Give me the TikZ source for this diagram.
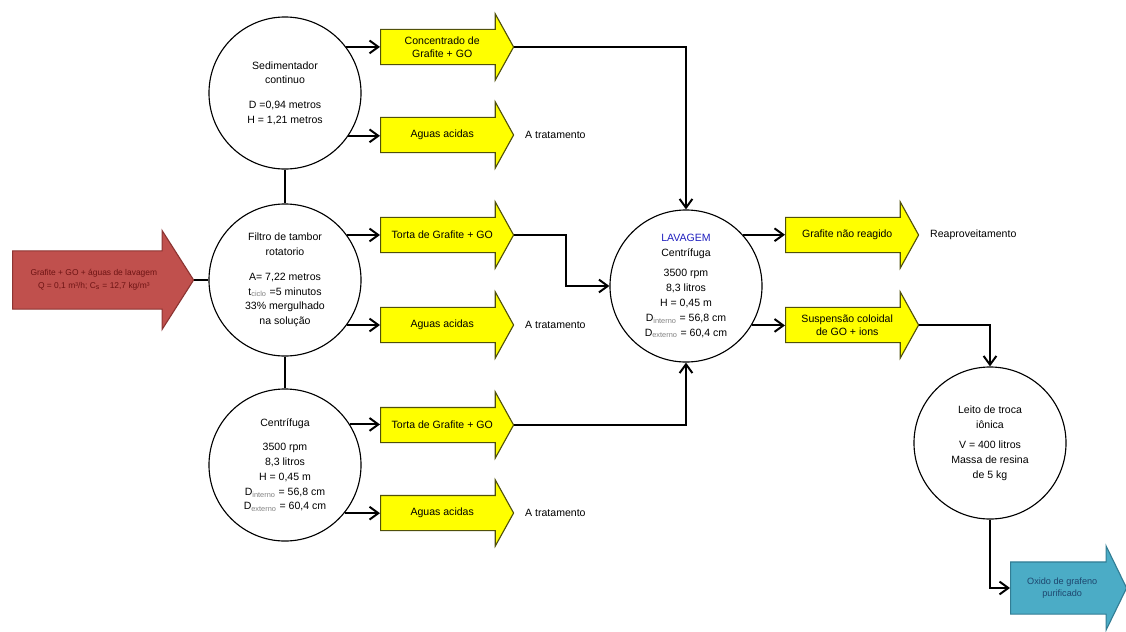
\documentclass[tikz,border=0pt]{standalone}
\usepackage{fontspec}
\setmainfont{Liberation Sans}
\usepackage{tikz}
\usetikzlibrary{positioning, arrows.meta, shapes.arrows}
\definecolor{FeedRed}{RGB}{192, 80, 77}
\definecolor{FeedRedLine}{RGB}{140, 52, 50}
\definecolor{FeedText}{RGB}{110, 20, 20}
\definecolor{FlowYellow}{RGB}{255, 255, 0}
\definecolor{FlowYellowLine}{RGB}{80, 80, 10}
\definecolor{ProdBlue}{RGB}{75, 172, 198}
\definecolor{ProdBlueLine}{RGB}{50, 125, 148}
\definecolor{ProdText}{RGB}{30, 70, 110}
\definecolor{WashBlue}{RGB}{30, 30, 190}
\newcommand{\flowbox}[3]{\parbox[c][#1][c]{#2}{\centering #3}}
\newcommand{\grsub}[1]{\textsubscript{\textcolor{gray}{#1}}}

\begin{document}
\begin{tikzpicture}[
        x=0.025cm, y=-0.025cm,
        >={Straight Barb[length=2.2mm, width=3.2mm]},
        vessel/.style={
          circle,
          draw,
          thick,
          minimum size=3.8cm,
          inner sep=0pt,
          align=center,
          font=\fontsize{7.5}{10.5}\selectfont
        },
        stream/.style={
          single arrow,
          draw=FlowYellowLine,
          thick,
          fill=FlowYellow,
          inner sep=0pt,
          single arrow head extend=0.39cm,
          single arrow tip angle=122,
          minimum height=3.325cm,
          anchor=tail,
          font=\fontsize{7.5}{9}\selectfont
        },
        feedarrow/.style={
          single arrow,
          draw=FeedRedLine,
          thick,
          fill=FeedRed,
          text=FeedText,
          inner sep=0pt,
          single arrow head extend=0.51cm,
          single arrow tip angle=115,
          minimum height=4.525cm,
          anchor=tail,
          font=\fontsize{6}{9}\selectfont
        },
        prodarrow/.style={
          single arrow,
          draw=ProdBlueLine,
          thick,
          fill=ProdBlue,
          text=ProdText,
          inner sep=0pt,
          single arrow head extend=0.4cm,
          single arrow tip angle=128,
          minimum height=2.9cm,
          anchor=tail,
          font=\fontsize{6.5}{9}\selectfont
        },
        note/.style={font=\fontsize{7.5}{9}\selectfont},
        pipe/.style={line width=1.4pt},
        link/.style={line width=1.4pt, ->}
      ]
        \useasboundingbox (0,0) rectangle (1126,632);

        % equipamentos
        \node (sed)   at (285, 93)  [vessel] {Sedimentador\\continuo\\[7pt]D =0,94 metros\\H = 1,21 metros};
        \node (filt)  at (285, 280) [vessel] {Filtro de tambor\\rotatorio\\[7pt]A= 7,22 metros\\t\grsub{ciclo} =5 minutos\\33\% mergulhado\\na solução};
        \node (cent)  at (285, 465) [vessel] {Centrífuga\\[7pt]3500 rpm\\8,3 litros\\H = 0,45 m\\D\grsub{interno} = 56,8 cm\\D\grsub{externo} = 60,4 cm};
        \node (lav)   at (686, 286) [vessel] {\textcolor{WashBlue}{LAVAGEM}\\Centrífuga\\[4pt]3500 rpm\\8,3 litros\\H = 0,45 m\\D\grsub{interno} = 56,8 cm\\D\grsub{externo} = 60,4 cm};
        \node (leito) at (990, 443) [vessel] {Leito de troca\\iônica\\[4pt]V = 400 litros\\Massa de resina\\de 5 kg};

        % correntes
        \node (feed)   at (12, 280)   [feedarrow] {\flowbox{1.425cm}{3.6cm}{Grafite + GO + águas de lavagem\\Q = 0,1 m³/h; C\textsubscript{s} = 12,7 kg/m³}};
        \node (conc)   at (380, 47)   [stream] {\flowbox{0.85cm}{2.8cm}{Concentrado de\\Grafite + GO}};
        \node (ac1)    at (380, 135)  [stream] {\flowbox{0.85cm}{2.8cm}{Aguas acidas}};
        \node (torta1) at (380, 235)  [stream] {\flowbox{0.85cm}{2.8cm}{Torta de Grafite + GO}};
        \node (ac2)    at (380, 325)  [stream] {\flowbox{0.85cm}{2.8cm}{Aguas acidas}};
        \node (torta3) at (380, 425)  [stream] {\flowbox{0.85cm}{2.8cm}{Torta de Grafite + GO}};
        \node (ac3)    at (380, 513)  [stream] {\flowbox{0.85cm}{2.8cm}{Aguas acidas}};
        \node (nreag)  at (785, 235)  [stream] {\flowbox{0.85cm}{2.8cm}{Grafite não reagido}};
        \node (susp)   at (785, 325)  [stream] {\flowbox{0.85cm}{2.8cm}{Suspensão coloidal\\de GO + ions}};
        \node (oxido)  at (1010, 588) [prodarrow] {\flowbox{1.275cm}{2.2cm}{Oxido de grafeno\\purificado}};

        % destinos
        \node (trat1) [note, right=0.15cm of ac1.tip] {A tratamento};
        \node (trat2) [note, right=0.15cm of ac2.tip] {A tratamento};
        \node (trat3) [note, right=0.15cm of ac3.tip] {A tratamento};
        \node (reap)  [note, right=0.15cm of nreag.tip] {Reaproveitamento};

        \draw[pipe] (feed.tip) -- (filt.west);
        \draw[pipe] (sed) -- (filt);
        \draw[pipe] (filt) -- (cent);

        \draw[link] (sed.37) -- (sed.37 -| conc.tail);
        \draw[link] (sed.-34) -- (sed.-34 -| ac1.tail);
        \draw[link] (filt.36) -- (filt.36 -| torta1.tail);
        \draw[link] (filt.-36) -- (filt.-36 -| ac2.tail);
        \draw[link] (cent.32) -- (cent.32 -| torta3.tail);
        \draw[link] (cent.-39) -- (cent.-39 -| ac3.tail);

        \draw[link] (conc.tip) -| (lav.north);
        \draw[link] (torta1.tip) -- ++(52,0) |- (lav.west);
        \draw[link] (torta3.tip) -| (lav.south);

        \draw[link] (lav.42) -- (lav.42 -| nreag.tail);
        \draw[link] (lav.-31) -- (lav.-31 -| susp.tail);
        \draw[link] (susp.tip) -| (leito.north);
        \draw[link] (leito.south) |- (oxido.tail);
      \end{tikzpicture}
\end{document}
